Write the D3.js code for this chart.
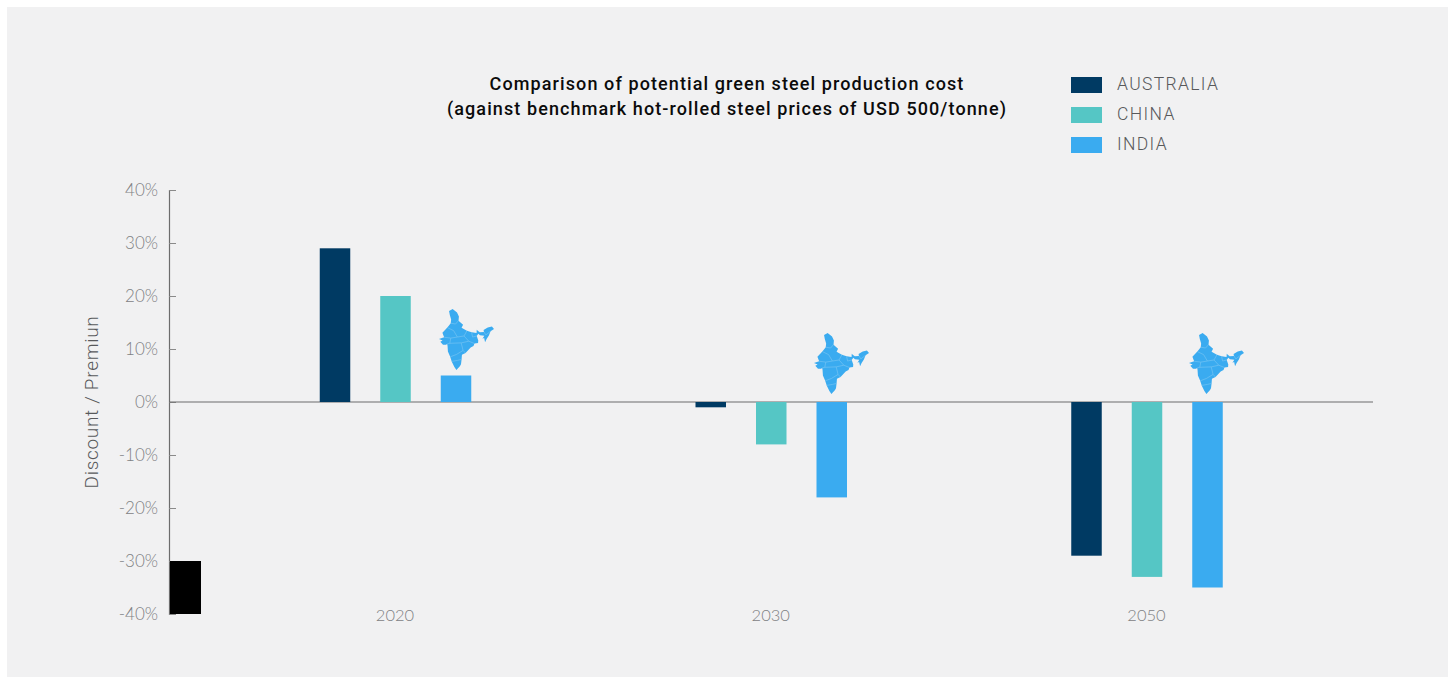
<!DOCTYPE html>
<html><head><meta charset="utf-8">
<script src="https://cdn.jsdelivr.net/npm/d3@7"></script>
<style>html,body{margin:0;padding:0;background:#fff}svg{display:block}text{font-family:Lato,sans-serif}</style>
</head><body><svg id="c" width="1448" height="677"></svg>
<script>
const categories=["2020","2030","2050"];
const seriesNames=["AUSTRALIA","CHINA","INDIA"];
const seriesColors=["#003A63","#55C6C5","#3AABF0"];
const australia=[29,-1,-29];
const china=[20,-8,-33];
const india=[5,-18,-35];
const yTicks=[40,30,20,10,0,-10,-20,-30,-40];
const strayBar=[-30,-40];
const titleLines=["Comparison of potential green steel production cost","(against benchmark hot-rolled steel prices of USD 500/tonne)"];
const indiaOutline=[[74,34.5],[73.6,36.2],[75.5,37],[77.8,35.5],[78.8,33.8],[78.6,32],[81,30.2],[80.2,28.8],[83,27.4],[85.5,26.7],[88.1,26.4],[88.2,27.9],[88.9,27.3],[89.8,26.7],[92,26.9],[91.8,27.8],[94,28.9],[96.2,29.4],[97.3,28.3],[95.5,27.2],[94.6,25.2],[93.4,23.6],[92.6,22],[92.1,24],[91.2,23.7],[92.2,25.1],[89.9,25.3],[89,26],[88.2,25],[89,22.9],[88.9,21.7],[87,21.4],[86.5,20.2],[85,19.4],[82.3,16.7],[80.4,15.8],[80.2,13.5],[79.9,11],[79.3,10],[78.2,8.9],[77.5,8.1],[76.4,9.6],[75,12.5],[74.2,14.8],[73,17.5],[72.8,20.3],[72.6,21.2],[72,20.8],[70.4,20.8],[69,22.3],[70.2,22.9],[68.3,23.6],[71,24.4],[70.1,26.5],[72.7,28.9],[74.5,30.9],[74.7,32.5],[74,34.5]];
const indiaStates=[[[74.5,30.9],[77,30.5],[78.6,32]],[[72.7,28.9],[76,27.5],[78,24.5],[74.5,24]],[[71,24.4],[74.5,24],[74,21.5],[72.6,21.2]],[[78,24.5],[81.5,25],[83,27.4]],[[81.5,25],[84,22.5],[87,21.4]],[[74,21.5],[80,21.7],[84,22.5]],[[80,21.7],[81,18],[82.3,16.7]],[[74.2,14.8],[77.5,16],[81,18]],[[75,12.5],[78,13],[80.2,13.5]],[[85.5,26.7],[86,24.5],[88.2,25]],[[92,26.9],[93,25.5],[95.5,27.2]]];

const svg=d3.select("#c");
svg.append("rect").attr("x",7).attr("y",7).attr("width",1441).attr("height",670).attr("fill","#F1F1F2");

const y=d3.scaleLinear().domain([-40,40]).range([614,190]);
const x=d3.scalePoint().domain(categories).range([395.5,1147]);
const offset=d3.scalePoint().domain(seriesNames).range([-60.5,60.5]);
const barW=30.5;
const values=[australia,china,india];

const ay=svg.append("g").attr("transform","translate(169,0)")
  .call(d3.axisLeft(y).tickValues(yTicks).tickSize(-7).tickFormat(d=>d+"%"));
ay.select(".domain").attr("stroke","#6d6d6d").attr("stroke-width",1.2);
ay.selectAll(".tick line").attr("stroke","#8a8a8a");
ay.selectAll("text").attr("fill","#7f8184").attr("font-size",17).attr("font-weight",300).attr("x",-11);
svg.append("line").attr("x1",169).attr("x2",1373).attr("y1",y(0)).attr("y2",y(0)).attr("stroke","#6d6d6d").attr("stroke-width",1.2);

svg.append("rect").attr("x",170).attr("width",31).attr("y",y(strayBar[0])).attr("height",y(strayBar[1])-y(strayBar[0])).attr("fill","#000");

seriesNames.forEach((s,si)=>{
  svg.append("g").selectAll("rect").data(values[si]).join("rect")
    .attr("x",(d,i)=>x(categories[i])+offset(s)-barW/2)
    .attr("width",barW)
    .attr("y",d=>y(Math.max(d,0)))
    .attr("height",d=>Math.abs(y(d)-y(0)))
    .attr("fill",seriesColors[si]);
});

svg.append("g").selectAll("text").data(categories).join("text")
  .attr("x",d=>x(d)-.5).attr("y",621).attr("text-anchor","middle").attr("fill","#7f8184").attr("font-size",16.5).attr("font-weight",300).text(d=>d);

const outline={type:"Polygon",coordinates:[indiaOutline]};
const mapBoxes=[[439,309],[814,333],[1189,333]];
mapBoxes.forEach(b=>{
  const base=d3.geoMercator().fitExtent([[0,0],[55,61]],outline);
  const bounds=d3.geoPath(base).bounds(outline);
  const sy=61/(bounds[1][1]-bounds[0][1]);
  const path=d3.geoPath(base);
  const g=svg.append("g").attr("transform",`translate(${b[0]-bounds[0][0]},${b[1]-bounds[0][1]*sy}) scale(1,${sy})`);
  g.append("path").datum(outline).attr("d",path).attr("fill","#3AABF0");
  g.append("path").datum({type:"MultiLineString",coordinates:indiaStates}).attr("d",path).attr("fill","none").attr("stroke","#7cc6f3").attr("stroke-width",.6);
});

svg.append("g").selectAll("text").data(titleLines).join("text")
  .attr("x",727).attr("y",(d,i)=>90+i*25).attr("text-anchor","middle")
  .attr("fill","#0b0b0b").attr("font-size",18).style("font-family","Roboto,sans-serif").style("font-weight",500).style("letter-spacing","1.1px").text(d=>d);

svg.append("text").attr("transform","translate(98,402) rotate(-90)").attr("text-anchor","middle")
  .attr("fill","#58595b").attr("font-size",19).style("font-family","Roboto,sans-serif").style("font-weight",300).style("letter-spacing","0.7px").text("Discount / Premiun");

const leg=d3.scalePoint().domain(seriesNames).range([85,145]);
seriesNames.forEach((s,i)=>{
  svg.append("rect").attr("x",1071).attr("y",leg(s)-8).attr("width",31).attr("height",16).attr("fill",seriesColors[i]);
  svg.append("text").attr("x",1117).attr("y",leg(s)+5).attr("fill","#58595b").attr("font-size",17.5).style("font-family","Roboto,sans-serif").style("font-weight",300).style("letter-spacing","1.35px").text(s);
});
</script></body></html>
